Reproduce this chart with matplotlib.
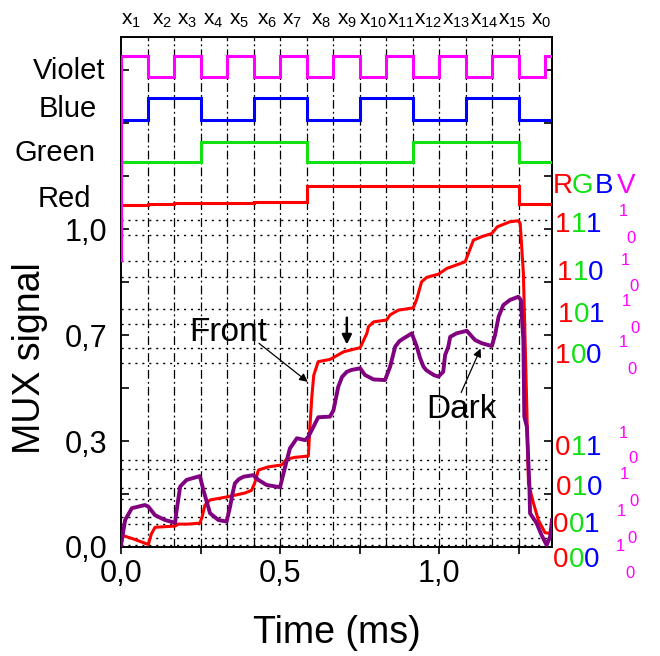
import matplotlib
matplotlib.use("Agg")
import matplotlib.pyplot as plt
from matplotlib.ticker import FixedLocator, FixedFormatter, MultipleLocator

plt.rcParams['font.family'] = ['Liberation Sans', 'DejaVu Sans']
plt.rcParams['mathtext.fontset'] = 'custom'
plt.rcParams['mathtext.rm'] = 'Liberation Sans'

# ---------------- data ----------------
period = 1.0 / 12.0            # ms per code slot
n_slots = 16
t_end = 1.355

slot_labels = ['1', '2', '3', '4', '5', '6', '7', '8', '9', '10',
               '11', '12', '13', '14', '15', '0']
slot_label_pos = [0.032, 0.129, 0.208, 0.289, 0.371, 0.459, 0.538, 0.629,
                  0.711, 0.794, 0.880, 0.966, 1.054, 1.142, 1.231, 1.321]

violet_bits = [1, 0, 1, 0, 1, 0, 1, 0, 1, 0, 1, 0, 1, 0, 1, 0, 1]
blue_bits   = [0, 1, 1, 0, 0, 1, 1, 0, 0, 1, 1, 0, 0, 1, 1, 0, 0]
green_bits  = [0, 0, 0, 1, 1, 1, 1, 0, 0, 0, 0, 1, 1, 1, 1, 0, 0]
red_levels  = [1.077, 1.079, 1.081, 1.082, 1.083, 1.084, 1.085,
               1.136, 1.136, 1.136, 1.136, 1.136, 1.136, 1.136, 1.136,
               1.080, 1.080]
violet_lo, violet_hi = 1.477, 1.543
blue_lo, blue_hi = 1.343, 1.411
green_lo, green_hi = 1.212, 1.275
violet_start = 0.896

front_t = [0.0, 0.04, 0.086, 0.095, 0.107, 0.14, 0.17, 0.18, 0.21, 0.248, 0.255,
           0.264, 0.28, 0.336, 0.39, 0.41, 0.42, 0.432, 0.463, 0.505, 0.512, 0.52,
           0.547, 0.589, 0.594, 0.6, 0.606, 0.62, 0.657, 0.70, 0.752, 0.773, 0.778,
           0.794, 0.835, 0.846, 0.872, 0.919, 0.93, 0.945, 0.961, 0.998, 1.024,
           1.082, 1.092, 1.108, 1.134, 1.166, 1.183, 1.223, 1.249, 1.255, 1.265,
           1.276, 1.281, 1.297, 1.312, 1.333, 1.349, 1.355]
front_y = [0.038, 0.025, 0.008, 0.04, 0.062, 0.064, 0.066, 0.072, 0.072, 0.075, 0.095,
           0.132, 0.148, 0.158, 0.17, 0.178, 0.2, 0.242, 0.252, 0.258, 0.265, 0.276,
           0.282, 0.286, 0.38, 0.473, 0.54, 0.583, 0.59, 0.614, 0.627, 0.672, 0.693,
           0.708, 0.714, 0.73, 0.745, 0.752, 0.78, 0.834, 0.848, 0.858, 0.876,
           0.897, 0.923, 0.965, 0.976, 0.986, 1.007, 1.023, 1.026, 1.018, 0.861,
           0.431, 0.2, 0.137, 0.085, 0.045, 0.043, 0.06]

dark_t = [0.0, 0.013, 0.034, 0.075, 0.086, 0.107, 0.138, 0.17, 0.175, 0.186, 0.206,
          0.248, 0.259, 0.28, 0.306, 0.332, 0.343, 0.35, 0.358, 0.37, 0.385, 0.416,
          0.432, 0.458, 0.50, 0.516, 0.531, 0.553, 0.579, 0.589, 0.605, 0.62, 0.657,
          0.668, 0.683, 0.695, 0.71, 0.725, 0.752, 0.767, 0.794, 0.83, 0.846, 0.862,
          0.875, 0.888, 0.9, 0.914, 0.93, 0.94, 0.951, 0.96, 0.972, 0.985, 0.998,
          1.013, 1.019, 1.029, 1.035, 1.055, 1.087, 1.113, 1.134, 1.166, 1.176,
          1.187, 1.202, 1.223, 1.249, 1.257, 1.265, 1.268, 1.276, 1.284, 1.286,
          1.307, 1.322, 1.338, 1.349, 1.355]
dark_y = [0.005, 0.085, 0.122, 0.132, 0.127, 0.10, 0.085, 0.076, 0.116, 0.19, 0.211,
          0.223, 0.179, 0.106, 0.085, 0.08, 0.127, 0.165, 0.20, 0.213, 0.221, 0.226,
          0.211, 0.195, 0.188, 0.252, 0.31, 0.342, 0.336, 0.347, 0.378, 0.408, 0.41,
          0.43, 0.504, 0.535, 0.551, 0.557, 0.562, 0.541, 0.527, 0.525, 0.567, 0.63,
          0.647, 0.656, 0.663, 0.672, 0.63, 0.595, 0.567, 0.556, 0.548, 0.54, 0.536,
          0.551, 0.604, 0.63, 0.661, 0.672, 0.68, 0.651, 0.641, 0.632, 0.667,
          0.724, 0.761, 0.777, 0.787, 0.777, 0.651, 0.41, 0.378, 0.19, 0.106,
          0.074, 0.038, 0.006, 0.032, 0.085]

code_levels = [1.028, 0.981, 0.899, 0.85, 0.75, 0.701, 0.625, 0.578,
               0.274, 0.244, 0.185, 0.151, 0.093, 0.072, 0.028, 0.006]

codes = ['111', '110', '101', '100', '011', '010', '001', '000']

y_ticks = [0, 1/6, 2/6, 3/6, 4/6, 5/6, 1.0, 7/6, 8/6, 9/6]
y_ticklabels = ['0,0', '', '0,3', '', '0,7', '', '1,0', '', '', '']
x_ticks = [0.0, 0.5, 1.0]
x_ticklabels = ['0,0', '0,5', '1,0']

# ---------------- style ----------------
RED = '#ff0000'
GREEN = '#11e011'
BLUE = '#0000ff'
MAGENTA = '#ff00ff'
PURPLE = '#800080'

W, H = 660, 656
fig = plt.figure(figsize=(W / 100, H / 100), dpi=100)
ax = fig.add_axes([121 / W, 1 - 547 / H, (552 - 121) / W, (547 - 37) / H])
ax.set_xlim(0, t_end)
ax.set_ylim(0, 1.604)


def fx(px):
    return px / W


def fy(py):
    return 1 - py / H


# grid: code boundaries and code levels
for k in range(1, n_slots):
    ax.axvline(k * period, color='black', lw=0.9, ls=(0, (7, 2.5, 1.5, 2.5)), zorder=1)
for lv in code_levels:
    ax.axhline(lv, color='black', lw=1.0, ls=(0, (1.5, 3.5)), zorder=1)

edges = [k * period for k in range(n_slots + 1)] + [t_end]
ax.stairs([violet_hi if b else violet_lo for b in violet_bits], edges,
          baseline=None, color=MAGENTA, lw=2.2, zorder=3)
ax.stairs([blue_hi if b else blue_lo for b in blue_bits], edges,
          baseline=None, color=BLUE, lw=2.2, zorder=3)
ax.stairs([green_hi if b else green_lo for b in green_bits], edges,
          baseline=None, color=GREEN, lw=2.2, zorder=3)
ax.stairs(red_levels, edges, baseline=None, color=RED, lw=2.2, zorder=3)
ax.plot([0, 0], [violet_start, violet_hi], color=MAGENTA, lw=3, zorder=3,
        solid_capstyle='butt')

ax.plot(front_t, front_y, color=RED, lw=2.2, zorder=4)
ax.plot(dark_t, dark_y, color=PURPLE, lw=2.8, zorder=4)

# annotations
ax.text(0.336, 0.676, 'Front', fontsize=24, ha='center', va='center')
ax.annotate('', xy=(0.594, 0.514), xytext=(0.427, 0.646),
            arrowprops=dict(arrowstyle='-|>', lw=0.9, color='black', mutation_scale=12))
ax.text(1.069, 0.431, 'Dark', fontsize=24, ha='center', va='center')
ax.annotate('', xy=(1.134, 0.632), xytext=(1.066, 0.478),
            arrowprops=dict(arrowstyle='-|>', lw=0.9, color='black', mutation_scale=12))
ax.annotate('', xy=(0.71, 0.628), xytext=(0.71, 0.73),
            arrowprops=dict(arrowstyle='-|>', lw=1.8, color='black', mutation_scale=14))

# slot labels along top
for lab, pos in zip(slot_labels, slot_label_pos):
    ax.text(pos, 1.6415, r'$\mathregular{x_{%s}}$' % lab, fontsize=15,
            ha='center', va='baseline')

# channel names on the left
for name, cx, base in [('Violet', 69, 79), ('Blue', 68, 117),
                       ('Green', 55, 161), ('Red', 64, 207)]:
    fig.text(fx(cx), fy(base), name, fontsize=21, ha='center', va='baseline')

# RGB V header
for ch, col, lx in [('R', RED, 553), ('G', GREEN, 572), ('B', BLUE, 595),
                    ('V', MAGENTA, 617)]:
    fig.text(fx(lx), fy(193), ch, fontsize=20, color=col, ha='left', va='baseline')

# code labels on the right
code_base = [231.7, 280, 321.7, 363.3, 455, 495, 531.7, 566.7]
code_left = [555, 557, 558, 555, 555, 556, 553, 553]
v1_pos = [(623, 216), (625, 265), (626, 306), (623, 347),
          (623, 438), (624, 479), (621, 516), (620, 551)]
v0_pos = [(631, 243), (634, 291), (635, 333), (632, 374),
          (633, 463), (634, 506), (632, 543), (630, 578)]
for code, base, left, p1, p0 in zip(codes, code_base, code_left, v1_pos, v0_pos):
    for i, (d, col) in enumerate(zip(code, [RED, GREEN, BLUE])):
        fig.text(fx(left + i * 15.5), fy(base), d, fontsize=20, color=col,
                 ha='left', va='baseline')
    fig.text(fx(p1[0]), fy(p1[1]), '1', fontsize=12, color=MAGENTA,
             ha='center', va='baseline')
    fig.text(fx(p0[0]), fy(p0[1]), '0', fontsize=12, color=MAGENTA,
             ha='center', va='baseline')

# axes styling
for s in ax.spines.values():
    s.set_linewidth(1.4)
ax.yaxis.set_major_locator(FixedLocator(y_ticks))
ax.yaxis.set_major_formatter(FixedFormatter(y_ticklabels))
ax.xaxis.set_major_locator(FixedLocator(x_ticks))
ax.xaxis.set_major_formatter(FixedFormatter(x_ticklabels))
ax.xaxis.set_minor_locator(MultipleLocator(0.25))
ax.tick_params(axis='y', which='major', direction='in', length=6, width=1.2,
               labelsize=22, pad=10, right=True)
ax.tick_params(axis='x', which='both', direction='out', length=5, width=1.2,
               labelsize=22, pad=4)

ax.set_xlabel('Time (ms)', fontsize=27)
ax.xaxis.set_label_coords(0.5, -0.133)
ax.set_ylabel('MUX signal', fontsize=27)
ax.yaxis.set_label_coords(-0.17, 0.37)

fig.savefig('out.png', dpi=100)
